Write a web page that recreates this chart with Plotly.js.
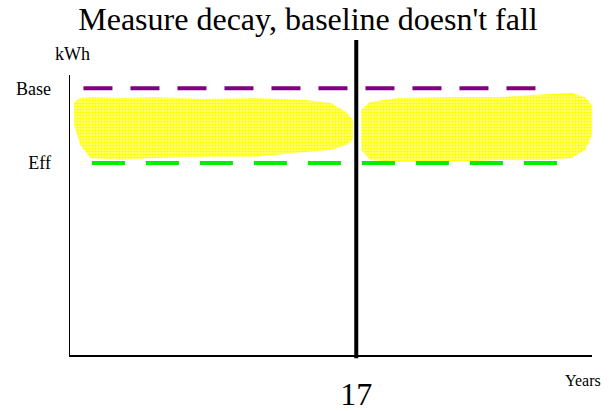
<!DOCTYPE html>
<html><head><meta charset="utf-8">
<script src="https://cdn.plot.ly/plotly-3.0.1.min.js"></script>
<style>html,body{margin:0;padding:0;background:#fff}#c{width:616px;height:411px}</style>
</head><body><div id="c"></div>
<script>
// Data
const yTickVals = [7.2, 10];
const yTickText = ["Eff", "Base"];
const changeYear = 17;
const baseX = [0.8, 28.4];
const baseY = [10, 10];
const effX = [1.3, 29.1];
const effY = [7.2, 7.2];
// Scatter cloud boundaries (before and after year 17)
const cloud1X = [0.25, 0.6, 1.2, 3, 5, 8, 11, 14, 15.5, 16.4, 16.8];
const cloud1Top = [9.49, 9.64, 9.67, 9.64, 9.67, 9.6, 9.64, 9.56, 9.45, 9.11, 8.81];
const cloud1Bot = [8.62, 7.88, 7.39, 7.31, 7.39, 7.43, 7.43, 7.61, 7.69, 7.88, 8.06];
const cloud2X = [17.3, 17.8, 19.5, 22.5, 25.5, 28.5, 29.8, 30.6, 31.0];
const cloud2Top = [9.19, 9.49, 9.64, 9.67, 9.67, 9.79, 9.83, 9.67, 9.375];
const cloud2Bot = [7.69, 7.31, 7.24, 7.24, 7.31, 7.31, 7.39, 7.69, 8.25];

function poly(xs, top, bot) {
  return {
    x: xs.concat(xs.slice().reverse()),
    y: top.concat(bot.slice().reverse())
  };
}
const serif = "'Liberation Serif', 'DejaVu Serif', serif";
const cloudStyle = {
  type: "scatter", mode: "none", fill: "toself",
  fillcolor: "rgba(255,255,0,0.5)",
  fillpattern: {shape: ".", fgcolor: "#ffff00", bgcolor: "rgba(255,255,60,0.5)", size: 3, solidity: 0.6},
  hoverinfo: "skip", showlegend: false
};
const p1 = poly(cloud1X, cloud1Top, cloud1Bot);
const p2 = poly(cloud2X, cloud2Top, cloud2Bot);
const traces = [
  Object.assign({}, cloudStyle, {x: p1.x, y: p1.y}),
  Object.assign({}, cloudStyle, {x: p2.x, y: p2.y}),
  {type: "scatter", mode: "lines", x: baseX, y: baseY, line: {color: "#800080", width: 4, dash: "29px,18px"}, showlegend: false},
  {type: "scatter", mode: "lines", x: effX, y: effY, line: {color: "#00ee00", width: 4, dash: "33px,21px"}, showlegend: false}
];
const layout = {
  width: 616, height: 411,
  margin: {l: 70, r: 24, t: 75, b: 56},
  paper_bgcolor: "#fff", plot_bgcolor: "#fff",
  showlegend: false,
  font: {family: serif},
  title: {text: "Measure decay, baseline doesn't fall", font: {family: serif, size: 32, color: "#000"}, x: 0.5, xanchor: "center", y: 0.955, yanchor: "middle"},
  xaxis: {range: [0, 31], showgrid: false, zeroline: false, showline: true, linecolor: "#000", linewidth: 1.5,
    tickvals: [changeYear], ticktext: [String(changeYear)], ticks: "", ticklabelstandoff: 10,
    tickfont: {family: serif, size: 32, color: "#000"}},
  yaxis: {range: [0, 10.5], showgrid: false, zeroline: false, showline: true, linecolor: "#000", linewidth: 1.5,
    tickvals: yTickVals, ticktext: yTickText, ticks: "", ticklabelstandoff: 14,
    tickfont: {family: serif, size: 18, color: "#000"}},
  shapes: [
    {type: "line", xref: "x", yref: "paper", x0: changeYear, x1: changeYear, y0: -0.012, y1: 1.125, line: {color: "#000", width: 4}, layer: "above"}
  ],
  annotations: [
    {text: "kWh", xref: "paper", yref: "paper", x: 0.004, y: 1.075, xanchor: "center", yanchor: "middle", showarrow: false, font: {family: serif, size: 18, color: "#000"}},
    {text: "Years", xref: "paper", yref: "paper", x: 0.982, y: -0.09, xanchor: "center", yanchor: "middle", showarrow: false, font: {family: serif, size: 16, color: "#000"}}
  ]
};
Plotly.newPlot("c", traces, layout, {displayModeBar: false, staticPlot: true});
</script>
</body></html>
